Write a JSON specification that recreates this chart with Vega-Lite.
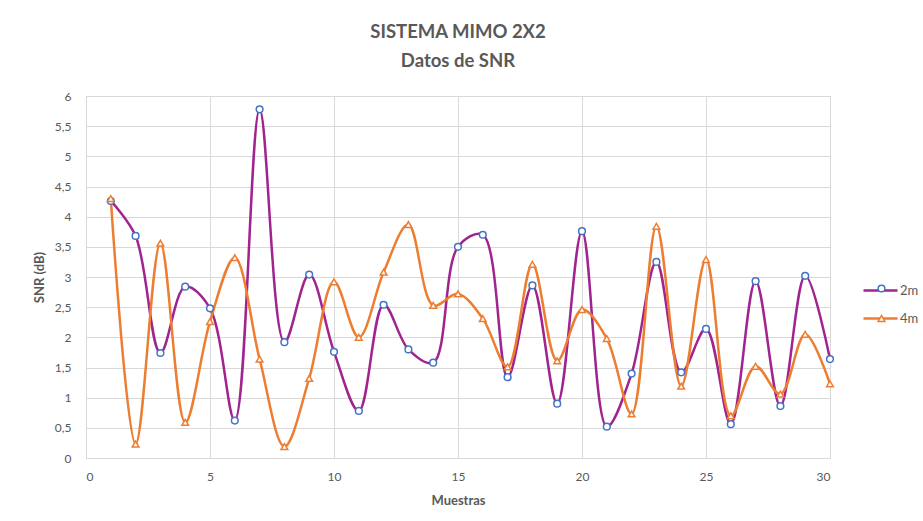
{
  "$schema": "https://vega.github.io/schema/vega-lite/v6.json",
  "width": 744,
  "height": 362,
  "autosize": "none",
  "padding": {"left": 86, "top": 96, "right": 93, "bottom": 63},
  "background": "white",
  "title": {
    "text": ["SISTEMA MIMO 2X2", "Datos de SNR"],
    "font": "Lato",
    "fontSize": 18.5,
    "fontWeight": "bold",
    "color": "#595959",
    "lineHeight": 29,
    "anchor": "middle",
    "offset": 20
  },
  "data": {
    "values": [
      {"x": 1, "series": "2m", "snr": 4.26}, {"x": 2, "series": "2m", "snr": 3.68}, {"x": 3, "series": "2m", "snr": 1.74},
      {"x": 4, "series": "2m", "snr": 2.84}, {"x": 5, "series": "2m", "snr": 2.48}, {"x": 6, "series": "2m", "snr": 0.62},
      {"x": 7, "series": "2m", "snr": 5.78}, {"x": 8, "series": "2m", "snr": 1.92}, {"x": 9, "series": "2m", "snr": 3.04},
      {"x": 10, "series": "2m", "snr": 1.76}, {"x": 11, "series": "2m", "snr": 0.78}, {"x": 12, "series": "2m", "snr": 2.54},
      {"x": 13, "series": "2m", "snr": 1.80}, {"x": 14, "series": "2m", "snr": 1.58}, {"x": 15, "series": "2m", "snr": 3.50},
      {"x": 16, "series": "2m", "snr": 3.70}, {"x": 17, "series": "2m", "snr": 1.34}, {"x": 18, "series": "2m", "snr": 2.86},
      {"x": 19, "series": "2m", "snr": 0.90}, {"x": 20, "series": "2m", "snr": 3.76}, {"x": 21, "series": "2m", "snr": 0.52},
      {"x": 22, "series": "2m", "snr": 1.40}, {"x": 23, "series": "2m", "snr": 3.25}, {"x": 24, "series": "2m", "snr": 1.42},
      {"x": 25, "series": "2m", "snr": 2.14}, {"x": 26, "series": "2m", "snr": 0.56}, {"x": 27, "series": "2m", "snr": 2.93},
      {"x": 28, "series": "2m", "snr": 0.86}, {"x": 29, "series": "2m", "snr": 3.02}, {"x": 30, "series": "2m", "snr": 1.64},
      {"x": 1, "series": "4m", "snr": 4.30}, {"x": 2, "series": "4m", "snr": 0.23}, {"x": 3, "series": "4m", "snr": 3.56},
      {"x": 4, "series": "4m", "snr": 0.59}, {"x": 5, "series": "4m", "snr": 2.26}, {"x": 6, "series": "4m", "snr": 3.32},
      {"x": 7, "series": "4m", "snr": 1.64}, {"x": 8, "series": "4m", "snr": 0.19}, {"x": 9, "series": "4m", "snr": 1.32},
      {"x": 10, "series": "4m", "snr": 2.92}, {"x": 11, "series": "4m", "snr": 2.00}, {"x": 12, "series": "4m", "snr": 3.08},
      {"x": 13, "series": "4m", "snr": 3.87}, {"x": 14, "series": "4m", "snr": 2.53}, {"x": 15, "series": "4m", "snr": 2.72},
      {"x": 16, "series": "4m", "snr": 2.31}, {"x": 17, "series": "4m", "snr": 1.51}, {"x": 18, "series": "4m", "snr": 3.21},
      {"x": 19, "series": "4m", "snr": 1.61}, {"x": 20, "series": "4m", "snr": 2.46}, {"x": 21, "series": "4m", "snr": 1.98},
      {"x": 22, "series": "4m", "snr": 0.73}, {"x": 23, "series": "4m", "snr": 3.84}, {"x": 24, "series": "4m", "snr": 1.19},
      {"x": 25, "series": "4m", "snr": 3.29}, {"x": 26, "series": "4m", "snr": 0.70}, {"x": 27, "series": "4m", "snr": 1.52},
      {"x": 28, "series": "4m", "snr": 1.06}, {"x": 29, "series": "4m", "snr": 2.05}, {"x": 30, "series": "4m", "snr": 1.23}
    ]
  },
  "encoding": {
    "x": {
      "field": "x", "type": "quantitative",
      "scale": {"domain": [0, 30], "nice": false},
      "axis": {
        "title": "Muestras", "values": [0, 5, 10, 15, 20, 25, 30],
        "grid": true, "gridColor": "#d9d9d9", "gridWidth": 1,
        "domain": false, "ticks": false,
        "labelFont": "Lato", "labelFontSize": 12, "labelColor": "#595959", "labelPadding": 13,
        "titleFont": "Lato", "titleFontSize": 13, "titleFontWeight": "bold", "titleColor": "#595959", "titlePadding": 12
      }
    },
    "y": {
      "field": "snr", "type": "quantitative",
      "scale": {"domain": [0, 6], "nice": false},
      "axis": {
        "title": "SNR (dB)", "values": [0, 0.5, 1, 1.5, 2, 2.5, 3, 3.5, 4, 4.5, 5, 5.5, 6],
        "labelExpr": "replace(toString(datum.value), '.', ',')",
        "grid": true, "gridColor": "#d9d9d9", "gridWidth": 1,
        "domain": false, "ticks": false,
        "labelFont": "Lato", "labelFontSize": 12, "labelColor": "#595959", "labelPadding": 15,
        "titleFont": "Lato", "titleFontSize": 13, "titleFontWeight": "bold", "titleColor": "#595959", "titlePadding": 8
      }
    }
  },
  "layer": [
    {
      "mark": {"type": "line", "interpolate": "catmull-rom", "strokeWidth": 2.5},
      "encoding": {
        "color": {
          "field": "series", "type": "nominal",
          "scale": {"domain": ["2m", "4m"], "range": ["#A0238F", "#ED7D31"]},
          "legend": {
            "title": null, "orient": "none", "legendX": 776, "legendY": 176,
            "symbolType": "stroke", "symbolSize": 1156, "symbolStrokeWidth": 2.5,
            "labelFont": "Lato", "labelFontSize": 13, "labelColor": "#595959", "labelOffset": 1,
            "rowPadding": 2
          }
        }
      }
    },
    {
      "mark": {"type": "point", "filled": false, "fill": "white", "fillOpacity": 1, "strokeWidth": 1.5, "size": 45, "opacity": 1},
      "encoding": {
        "shape": {
          "field": "series", "type": "nominal",
          "scale": {"range": ["circle", "triangle-up"]},
          "legend": {
            "title": null, "orient": "none", "legendX": 789, "legendY": 186,
            "symbolSize": 45, "symbolStrokeWidth": 1.5, "symbolFillColor": "white",
            "labelFont": "Lato", "labelFontSize": 13, "labelOpacity": 0, "labelOffset": 4,
            "rowPadding": 16
          }
        },
        "stroke": {
          "field": "series", "type": "nominal",
          "scale": {"range": ["#4472C4", "#ED7D31"]}
        }
      }
    }
  ],
  "resolve": {"scale": {"color": "independent", "stroke": "independent", "shape": "independent"}},
  "config": {
    "view": {"stroke": "#d9d9d9", "strokeWidth": 1},
    "font": "Lato"
  }
}
